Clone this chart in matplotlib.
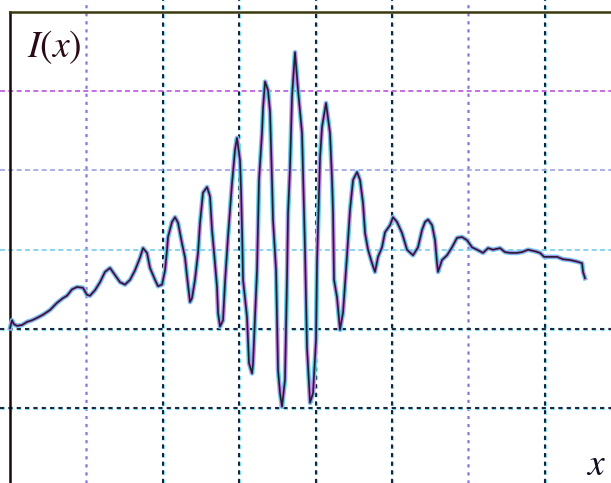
import matplotlib
matplotlib.use("Agg")
import matplotlib.pyplot as plt

plt.rcParams['lines.scale_dashes'] = False

# interferogram trace (x and y in grid divisions)
x_vals = [0.000, 0.026, 0.052, 0.092, 0.157, 0.223, 0.288, 0.353, 0.432, 0.524,
          0.615, 0.694, 0.746, 0.812, 0.877, 0.955, 1.008, 1.047, 1.113, 1.178,
          1.243, 1.309, 1.374, 1.440, 1.505, 1.571, 1.636, 1.702, 1.741, 1.793,
          1.832, 1.898, 1.937, 1.990, 2.029, 2.055, 2.068, 2.120, 2.160, 2.199,
          2.251, 2.291, 2.317, 2.356, 2.382, 2.421, 2.461, 2.487, 2.526, 2.579,
          2.618, 2.644, 2.683, 2.709, 2.723, 2.749, 2.788, 2.814, 2.853, 2.880,
          2.906, 2.945, 2.971, 3.010, 3.024, 3.037, 3.050, 3.102, 3.128, 3.168,
          3.181, 3.207, 3.233, 3.259, 3.298, 3.312, 3.338, 3.377, 3.403, 3.429,
          3.442, 3.482, 3.508, 3.534, 3.560, 3.599, 3.626, 3.639, 3.665, 3.691,
          3.730, 3.770, 3.822, 3.835, 3.848, 3.861, 3.887, 3.927, 3.966, 4.005,
          4.018, 4.045, 4.058, 4.084, 4.136, 4.188, 4.215, 4.228, 4.241, 4.280,
          4.319, 4.359, 4.411, 4.450, 4.490, 4.542, 4.581, 4.620, 4.647, 4.686,
          4.738, 4.777, 4.817, 4.869, 4.908, 4.974, 5.013, 5.065, 5.131, 5.196,
          5.275, 5.340, 5.393, 5.432, 5.471, 5.524, 5.563, 5.589, 5.602, 5.654,
          5.720, 5.785, 5.851, 5.916, 5.982, 6.047, 6.113, 6.191, 6.257, 6.322,
          6.414, 6.479, 6.545, 6.636, 6.702, 6.780, 6.872, 6.937, 6.990, 7.068,
          7.160, 7.238, 7.330, 7.421, 7.487, 7.500, 7.526]
i_vals = [0.01, 0.11, 0.06, 0.04, 0.05, 0.09, 0.11, 0.14, 0.18, 0.24,
          0.33, 0.39, 0.42, 0.50, 0.53, 0.52, 0.43, 0.42, 0.49, 0.59,
          0.72, 0.77, 0.68, 0.59, 0.56, 0.62, 0.74, 0.90, 1.02, 0.96,
          0.77, 0.62, 0.54, 0.56, 0.74, 1.00, 1.16, 1.35, 1.41, 1.34,
          1.08, 0.90, 0.66, 0.34, 0.39, 0.62, 0.96, 1.34, 1.72, 1.79,
          1.67, 1.25, 0.83, 0.53, 0.20, 0.03, 0.11, 0.59, 1.16, 1.50,
          1.84, 2.26, 2.41, 2.13, 1.75, 1.25, 0.62, 0.15, -0.43, -0.56,
          -0.43, 0.14, 0.74, 1.88, 2.47, 2.79, 3.12, 3.01, 2.74, 1.88,
          1.38, 0.74, -0.52, -0.81, -0.98, -0.64, 0.66, 1.46, 2.04, 2.93,
          3.49, 3.01, 2.47, 1.97, 1.50, 1.00, -0.23, -0.93, -0.81, -0.14,
          0.83, 1.75, 2.17, 2.55, 2.85, 2.47, 1.88, 1.46, 0.62, 0.40,
          -0.01, 0.21, 0.93, 1.50, 1.88, 1.98, 1.88, 1.59, 1.21, 1.00,
          0.83, 0.72, 0.91, 1.03, 1.22, 1.31, 1.41, 1.35, 1.21, 1.00,
          0.93, 1.03, 1.25, 1.35, 1.38, 1.31, 1.12, 0.83, 0.72, 0.87,
          0.93, 1.03, 1.15, 1.16, 1.12, 1.03, 1.00, 0.96, 1.02, 1.00,
          1.02, 0.97, 0.96, 0.96, 0.97, 1.00, 0.98, 0.96, 0.91, 0.91,
          0.91, 0.88, 0.87, 0.85, 0.83, 0.72, 0.64]

grid_x = [1, 2, 3, 4, 5, 6, 7]
grid_x_dark = [False, True, True, True, True, False, True]
grid_y = [-1, 0, 1, 2, 3]
grid_y_color = ['#202038', '#202038', '#80d0ee', '#a0a8e8', '#c060e0']

fig = plt.figure(figsize=(6.11, 4.83), dpi=100)
ax = fig.add_axes([0, 0, 1, 1])
ax.set_xlim(-0.131, 7.866)
ax.set_ylim(-1.942, 4.149)

for gx, dark in zip(grid_x, grid_x_dark):
    if dark:
        ax.axvline(gx, color='#80e0f0', lw=2.4, ls=(0, (3, 3.2)), zorder=1)
        ax.axvline(gx, color='#1c1c30', lw=1.4, ls=(0, (3, 3.2)), zorder=1)
    else:
        ax.axvline(gx, color='#70d8f0', lw=2.2, ls=(0, (2.2, 3.6)), zorder=1)
        ax.axvline(gx, color='#9070e0', lw=0.9, ls=(0, (2.2, 3.6)), zorder=1)

for gy, col in zip(grid_y, grid_y_color):
    if gy <= 0:
        ax.axhline(gy, color='#80e0f0', lw=2.4, ls=(0, (3, 3)), zorder=1)
        ax.axhline(gy, color=col, lw=1.4, ls=(0, (3, 3)), zorder=1)
    else:
        ax.axhline(gy, color=col, lw=1.3, ls=(0, (3.6, 2.4)), zorder=1)

# the trace: coloured fringe under a dark core, like the scanned original
ax.plot(x_vals, i_vals, color='#60d8f0', lw=3.4, zorder=3)
ax.plot(x_vals, i_vals, color='#c878e8', lw=2.2, zorder=4)
ax.plot(x_vals, i_vals, color='#202030', lw=1.2, zorder=5)

for side in ['right', 'bottom']:
    ax.spines[side].set_visible(False)
ax.spines['left'].set_position(('data', 0))
ax.spines['left'].set_bounds(-1.942, 4)
ax.spines['left'].set_color('#180808')
ax.spines['left'].set_linewidth(1.8)
ax.spines['top'].set_position(('data', 4))
ax.spines['top'].set_bounds(0, 7.866)
ax.spines['top'].set_color('#3a3a10')
ax.spines['top'].set_linewidth(1.8)
ax.set_xticks([])
ax.set_yticks([])

ax.text(0.22, 3.55, r'$I(x)$', fontsize=27, color='#2a0a18',
        ha='left', va='center', math_fontfamily='stix')
ax.text(7.80, -1.71, r'$x$', fontsize=27, color='#101020',
        ha='right', va='center', math_fontfamily='stix')

fig.savefig('out.png', dpi=100)
